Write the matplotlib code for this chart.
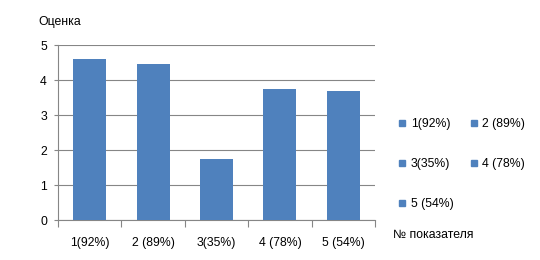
import matplotlib
matplotlib.use("Agg")
import matplotlib.pyplot as plt
from matplotlib.lines import Line2D
import numpy as np

categories = ["1(92%)", "2 (89%)", "3(35%)", "4 (78%)", "5 (54%)"]
values = [4.61, 4.47, 1.75, 3.75, 3.70]
yticks = [0, 1, 2, 3, 4, 5]

plt.rcParams['font.family'] = ['Liberation Sans', 'DejaVu Sans']
FS = 8.8
BAR = '#4F81BD'
GRID = '#868686'

fig = plt.figure(figsize=(5.4, 2.6), dpi=100)
ax = fig.add_axes([58/540, 1-220.3/260, (375-58)/540, (220.3-45.3)/260])

x = np.arange(len(categories))
for i, (c, v) in enumerate(zip(categories, values)):
    ax.bar(x[i], v, width=0.52, color=BAR, label=c, zorder=3)

ax.set_xlim(-0.5, len(categories)-0.5)
ax.set_ylim(0, 5)
ax.set_yticks(yticks)
ax.set_yticklabels([str(t) for t in yticks], fontsize=FS)
ax.yaxis.grid(True, color=GRID, linewidth=0.8, zorder=0)
ax.set_axisbelow(True)

ax.set_xticks(x)
ax.set_xticklabels(categories, fontsize=FS)
ax.tick_params(axis='x', length=0, pad=12)
ax.set_xticks(np.arange(-0.5, len(categories)), minor=True)
ax.tick_params(axis='x', which='minor', length=5, color=GRID, width=0.8)
ax.tick_params(axis='y', length=3, color=GRID, width=0.8, pad=5)

for s in ['top', 'right']:
    ax.spines[s].set_visible(False)
for s in ['left', 'bottom']:
    ax.spines[s].set_color(GRID)
    ax.spines[s].set_linewidth(0.8)

fig.text(38/540, 1-22/260, "Оценка", fontsize=FS, va='center', ha='left')
fig.text(393/540, 1-235/260, "№ показателя", fontsize=FS, va='center', ha='left')

handles = [Line2D([0], [0], marker='s', linestyle='none', markersize=4.2,
                  markerfacecolor=BAR, markeredgecolor=BAR) for _ in categories]
order = [0, 2, 4, 1, 3]
leg = fig.legend([handles[i] for i in order], [categories[i] for i in order],
                 ncol=2, loc='upper left', bbox_to_anchor=(398/540, 1-118/260),
                 frameon=False, fontsize=FS, handlelength=0.7, handletextpad=0.35,
                 columnspacing=1.3, labelspacing=2.3, borderpad=0, borderaxespad=0)

fig.savefig("out.png", dpi=100)
